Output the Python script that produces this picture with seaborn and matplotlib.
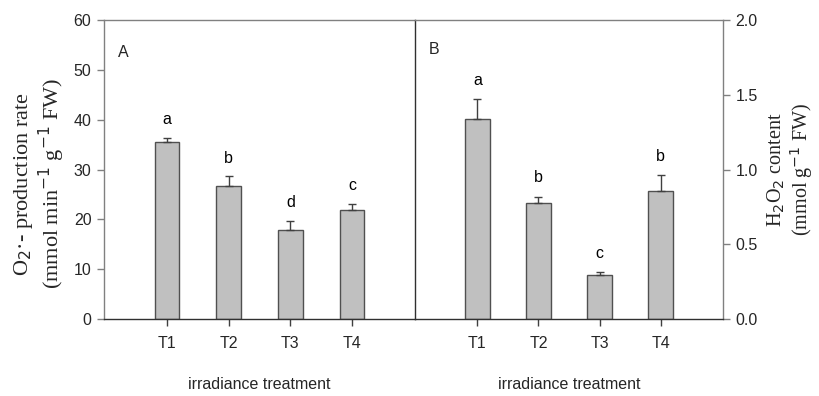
import matplotlib
matplotlib.use("Agg")
import matplotlib.pyplot as plt
import seaborn as sns
import pandas as pd
import numpy as np

categories = ["T1", "T2", "T3", "T4"]
o2_rate = [35.5, 26.7, 17.9, 21.8]
o2_err = [0.8, 1.9, 1.8, 1.2]
o2_letters = ["a", "b", "d", "c"]
h2o2 = [1.335, 0.775, 0.293, 0.855]
h2o2_err = [0.135, 0.043, 0.02, 0.105]
h2o2_letters = ["a", "b", "c", "b"]
left_ticks = [0, 10, 20, 30, 40, 50, 60]
right_ticks = [0.0, 0.5, 1.0, 1.5, 2.0]

sns.set_theme(style="white")
plt.rcParams['font.family'] = ['Liberation Sans', 'DejaVu Sans']

fig = plt.figure(figsize=(8.19, 3.96), dpi=100)
axA = fig.add_axes([104/819, 77/396, (415-104)/819, 299/396])
axB = fig.add_axes([415/819, 77/396, (723-415)/819, 299/396])

bar_color = "#c0c0c0"
edge = "#505050"
spine_gray = "#808080"

def panel(ax, vals, errs, letters, ymax, off):
    df = pd.DataFrame({"trt": categories, "val": vals})
    sns.barplot(data=df, x="trt", y="val", order=categories, color=bar_color,
                edgecolor=edge, linewidth=1.0, width=0.4, saturation=1, ax=ax, errorbar=None)
    xs = np.arange(len(categories))
    ax.errorbar(xs, vals, yerr=[np.zeros(len(vals)), errs], fmt="none",
                ecolor="#404040", elinewidth=1.0, capsize=3.2, capthick=1.0)
    for x, v, e, l in zip(xs, vals, errs, letters):
        ax.text(x, v + e + off, l, ha="center", va="bottom", fontsize=11.5, color="black")
    ax.set_xlim(-1.02, 4.02)
    ax.set_ylim(0, ymax)
    ax.set_xlabel("irradiance treatment", fontsize=11.5, labelpad=19)
    ax.tick_params(axis="x", which="both", bottom=True, length=5, width=1, color="#404040",
                   labelsize=11.5, pad=7)
    ax.tick_params(axis="y", labelsize=11.5, length=5, width=1, color=spine_gray, pad=4)
    for s in ax.spines.values():
        s.set_linewidth(1.0)

panel(axA, o2_rate, o2_err, o2_letters, 60, 2.2)
panel(axB, h2o2, h2o2_err, h2o2_letters, 2.0, 0.075)

axA.set_yticks(left_ticks)
axA.set_yticklabels([str(t) for t in left_ticks])
axA.yaxis.set_ticks_position("left")
for s in ["left", "top"]:
    axA.spines[s].set_color(spine_gray)
axA.spines["bottom"].set_color("#303030")
axA.spines["right"].set_visible(False)
axA.set_ylabel("O$_2$·- production rate\n(mmol min$^{-1}$ g$^{-1}$ FW)",
               fontsize=16, family="Liberation Serif", linespacing=1.1)
axA.yaxis.set_label_coords(-0.118, 0.452)

axB.yaxis.tick_right()
axB.yaxis.set_label_position("right")
axB.set_yticks(right_ticks)
axB.set_yticklabels([f"{t:.1f}" for t in right_ticks])
axB.spines["left"].set_color("#303030")
for s in ["right", "top"]:
    axB.spines[s].set_color(spine_gray)
axB.spines["bottom"].set_color("#303030")
axB.set_ylabel("H$_2$O$_2$ content\n(mmol g$^{-1}$ FW)",
               fontsize=14.5, family="Liberation Serif", labelpad=6, linespacing=1.05)
axB.tick_params(axis="y", right=True, left=False)

axA.text(0.045, 0.875, "A", transform=axA.transAxes, fontsize=11.5)
axB.text(0.045, 0.885, "B", transform=axB.transAxes, fontsize=11.5)

fig.savefig("out.png", dpi=100)
